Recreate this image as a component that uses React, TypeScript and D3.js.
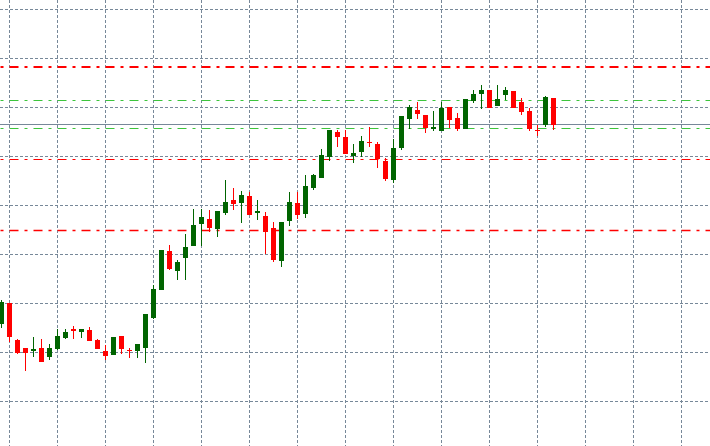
import React from "react";
import * as d3 from "d3";

const opens = [115.7,119.9,112.3,110.7,110.1,110.7,108.9,110.5,112.8,114.6,113.9,114.3,112.3,110.1,109.3,113.1,110.3,110.1,110.7,116.9,122.5,130.5,126.4,129.0,131.5,136.0,137.0,135.0,138.2,140.9,140.3,141.7,138.2,137.6,135.2,128.4,136.6,140.3,138.0,143.3,145.4,149.7,154.8,153.7,150.0,150.7,152.7,152.3,148.8,145.0,151.6,157.5,159.2,158.2,155.4,155.0,159.9,157.6,155.4,161.1,162.6,163.3,160.1,162.4,163.1,160.9,159.0,155.2,156.2,161.7];
const highs = [120.5,120.0,112.5,110.8,113.0,112.5,111.5,114.6,114.6,115.2,114.6,115.0,112.5,111.3,112.9,113.1,110.7,111.5,117.6,123.5,130.8,131.7,128.6,133.9,139.0,139.0,138.8,138.6,145.0,143.3,142.7,142.5,140.9,138.4,136.4,136.4,142.5,142.5,146.0,146.3,151.3,155.2,155.2,155.2,152.3,153.9,155.8,152.7,149.5,153.3,158.0,160.3,160.9,158.2,159.0,160.9,159.9,158.6,161.5,163.3,164.3,163.3,164.3,163.9,163.1,161.7,159.7,156.2,162.1,161.7];
const lows = [114.7,112.0,109.4,106.0,108.9,107.9,108.2,110.3,112.5,112.5,112.8,112.2,110.5,108.2,109.3,109.5,108.7,108.7,107.7,116.6,122.5,126.6,124.6,124.6,131.5,131.5,134.4,133.4,137.8,138.8,136.2,137.8,136.8,130.0,128.2,127.3,135.6,137.0,137.2,143.0,145.4,148.9,151.7,150.3,148.5,149.7,151.8,147.5,144.8,144.4,151.1,155.4,157.5,154.6,155.0,155.0,155.6,155.0,155.4,160.7,159.5,159.7,160.1,161.3,159.7,158.3,155.0,154.0,155.9,155.2];
const closes = [120.1,113.0,109.7,109.7,110.5,107.9,110.7,113.1,113.9,114.2,114.5,112.2,110.5,109.1,112.9,110.5,110.1,111.5,117.6,122.7,130.7,126.8,128.2,131.3,135.8,137.4,135.2,138.6,140.5,140.1,141.9,137.8,138.6,134.4,128.6,136.4,140.5,137.8,143.7,146.0,150.1,155.2,153.7,150.3,150.5,152.9,152.5,149.3,145.2,151.5,158.0,159.9,158.4,155.6,155.8,159.7,157.3,155.4,161.5,162.5,163.3,159.7,161.5,163.3,159.7,158.9,155.4,155.0,161.9,156.2];

const gridPrices = [100, 110, 120, 130, 140, 150, 160, 170, 180];
const redLevels = [168.1, 149.2, 134.7];
const greenLevels = [161.4, 155.7];
const bidPrice = 156.4;

const W = 710;
const H = 446;

export default function App() {
  const n = opens.length;
  const x = d3.scaleLinear().domain([0, n - 1]).range([1.5, 1.5 + 8 * (n - 1)]);
  const y = d3.scaleLinear().domain([100, 180]).range([400.5, 8.5]);

  const gridX = d3.range(1, 90, 6).map((i) => x(i)).filter((v) => v < W);
  const ry = (p: number) => Math.round(y(p)) + 0.5;

  const redWidths = [2, 1, 1.3];
  const dash = "9 6 3 6";
  const dashOff = 14.5;

  return (
    <svg
      width={W}
      height={H}
      style={{ position: "fixed", left: 0, top: 0, background: "#fff" }}
    >
      <rect x={0} y={0} width={W} height={H} fill="#fff" />
      <g stroke="#778899" strokeWidth={1} strokeDasharray="3 2">
        {gridPrices.map((p) => (
          <line key={"h" + p} x1={0} x2={W} y1={ry(p)} y2={ry(p)} />
        ))}
        {gridX.map((gx, i) => (
          <line key={"v" + i} x1={gx} x2={gx} y1={0} y2={H} />
        ))}
      </g>
      {redLevels.map((p, i) => (
        <line
          key={"r" + i}
          x1={0}
          x2={W}
          y1={i === 0 ? Math.round(y(p)) : ry(p)}
          y2={i === 0 ? Math.round(y(p)) : ry(p)}
          stroke="#ff0000"
          strokeWidth={redWidths[i]}
          strokeDasharray={dash}
          strokeDashoffset={dashOff}
        />
      ))}
      {greenLevels.map((p, i) => (
        <line
          key={"g" + i}
          x1={0}
          x2={W}
          y1={ry(p)}
          y2={ry(p)}
          stroke="#3cc43c"
          strokeWidth={1}
          strokeDasharray={dash}
          strokeDashoffset={dashOff}
        />
      ))}
      <line x1={0} x2={W} y1={ry(bidPrice)} y2={ry(bidPrice)} stroke="#778899" strokeWidth={1} />
      <g>
        {opens.map((o, i) => {
          const c = closes[i];
          const up = c >= o;
          const col = up ? "#006400" : "#ff0000";
          const cx = x(i);
          const top = Math.round(y(Math.max(o, c)));
          const bot = Math.round(y(Math.min(o, c)));
          const h = Math.max(1, bot - top);
          return (
            <g key={i}>
              <line
                x1={cx}
                x2={cx}
                y1={Math.round(y(highs[i]))}
                y2={Math.round(y(lows[i]))}
                stroke={col}
                strokeWidth={1}
              />
              <rect x={cx - 2.5} y={top} width={5} height={h} fill={col} />
            </g>
          );
        })}
      </g>
    </svg>
  );
}
